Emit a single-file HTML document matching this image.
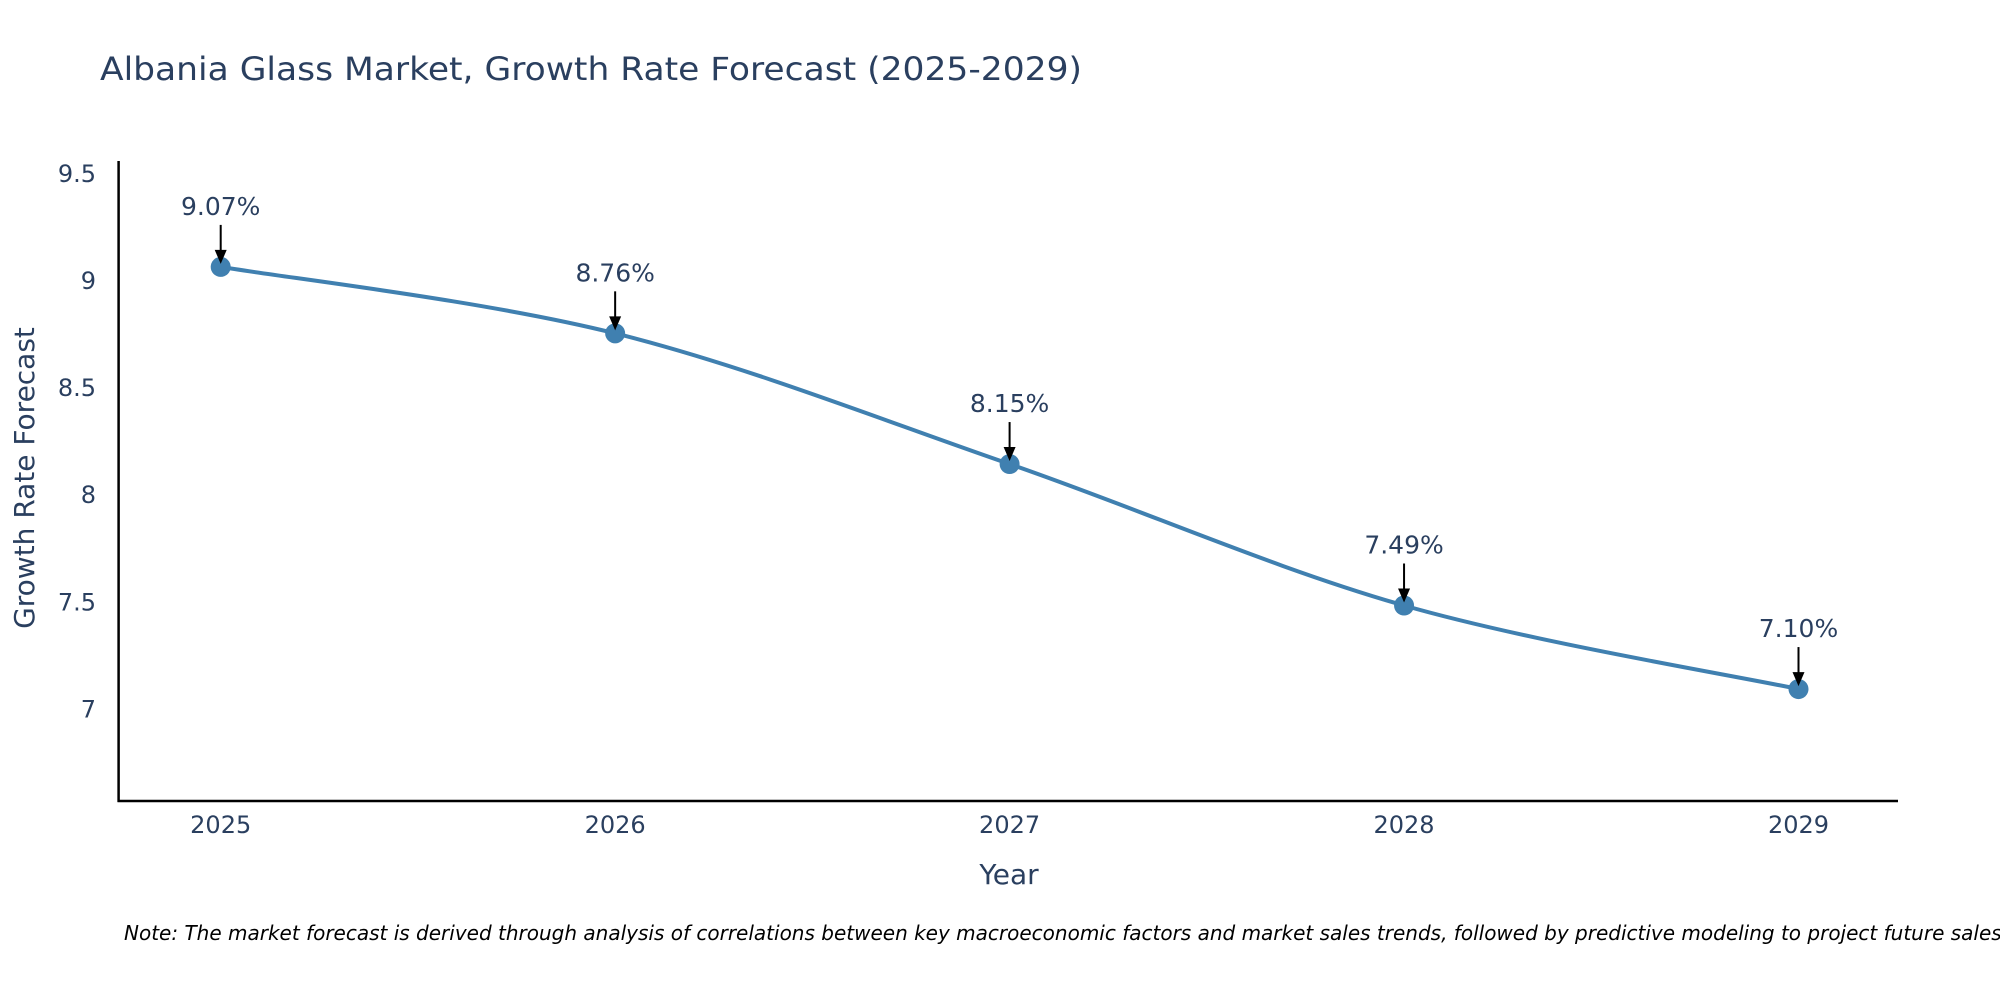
<!DOCTYPE html>
<html><head><meta charset="utf-8"><style>
html,body{margin:0;padding:0;background:#fff;}
svg{display:block;font-family:"DejaVu Sans","Liberation Sans",sans-serif;}
</style></head><body>
<svg id="chart" width="2000" height="1000" viewBox="0 0 2000 1000">
<text x="100" y="80" font-size="32" fill="#2a3f5f" textLength="982" lengthAdjust="spacingAndGlyphs">Albania Glass Market, Growth Rate Forecast (2025-2029)</text>
<g id="yticks"></g>
<g id="xticks"></g>
<line x1="118.6" y1="161" x2="118.6" y2="802" stroke="#000" stroke-width="2.5"/>
<line x1="117.5" y1="801" x2="1898" y2="801" stroke="#000" stroke-width="2.5"/>
<text x="26" y="478" font-size="28" fill="#2a3f5f" text-anchor="middle" dominant-baseline="middle" transform="rotate(-90 26 478)">Growth Rate Forecast</text>
<text x="1009" y="876" font-size="28" fill="#2a3f5f" text-anchor="middle" dominant-baseline="middle">Year</text>
<g id="series"></g>
<g id="annos"></g>
<text x="124" y="940" font-size="20" font-style="italic" fill="#000">Note: The market forecast is derived through analysis of correlations between key macroeconomic factors and market sales trends, followed by predictive modeling to project future sales.</text>
</svg>
<script>
const years = [2025, 2026, 2027, 2028, 2029];
const values = [9.07, 8.76, 8.15, 7.49, 7.10];
const labels = ["9.07%", "8.76%", "8.15%", "7.49%", "7.10%"];
const yTicks = [7, 7.5, 8, 8.5, 9, 9.5];
const yTickLabels = ["7", "7.5", "8", "8.5", "9", "9.5"];

const NS = "http://www.w3.org/2000/svg";
function xS(y){ return 220.7 + (y - 2025) * (1798.5 - 220.7) / 4; }
function yS(v){ return 710.5 - (v - 7) * 214.3; }
function mk(tag, attrs, parent){ const e=document.createElementNS(NS,tag); for(const k in attrs) e.setAttribute(k,attrs[k]); parent.appendChild(e); return e; }

const yt=document.getElementById('yticks');
yTicks.forEach((t,i)=>{
  const e=mk('text',{x:96,y:yS(t),'font-size':24,fill:'#2a3f5f','text-anchor':'end','dominant-baseline':'middle'},yt);
  
  
  e.textContent=yTickLabels[i];
});
const xt=document.getElementById('xticks');
years.forEach(y=>{
  const e=mk('text',{x:xS(y),y:826,'font-size':24,fill:'#2a3f5f','text-anchor':'middle','dominant-baseline':'middle'},xt);
  
  
  e.textContent=String(y);
});

const pts=years.map((y,i)=>[xS(y),yS(values[i])]);
let d='M'+pts[0][0]+','+pts[0][1];
for(let i=0;i<pts.length-1;i++){
  const p0=pts[Math.max(0,i-1)],p1=pts[i],p2=pts[i+1],p3=pts[Math.min(pts.length-1,i+2)];
  const s=1/6;
  const c1=[p1[0]+(p2[0]-p0[0])*s,p1[1]+(p2[1]-p0[1])*s];
  const c2=[p2[0]-(p3[0]-p1[0])*s,p2[1]-(p3[1]-p1[1])*s];
  d+=' C'+c1[0]+','+c1[1]+' '+c2[0]+','+c2[1]+' '+p2[0]+','+p2[1];
}
const ser=document.getElementById('series');
const line=mk('path',{d:d,fill:'none',stroke:'#4080b0','stroke-width':4},ser);


pts.forEach(p=>{
  const c=mk('circle',{cx:p[0],cy:p[1],r:10,fill:'#4080b0'},ser);
  
  
});
const an=document.getElementById('annos');
pts.forEach((p,i)=>{
  const a=mk('line',{x1:p[0],y1:p[1]-42,x2:p[0],y2:p[1]-14,stroke:'#000','stroke-width':2},an);
  
  
  const h=mk('polygon',{points:(p[0]-6)+','+(p[1]-17)+' '+(p[0]+6)+','+(p[1]-17)+' '+p[0]+','+(p[1]-3),fill:'#000'},an);
  
  
  const t=mk('text',{x:p[0],y:p[1]-59,'font-size':25,fill:'#2a3f5f','text-anchor':'middle','dominant-baseline':'middle'},an);
  
  
  t.textContent=labels[i];
});
</script>
</body></html>
